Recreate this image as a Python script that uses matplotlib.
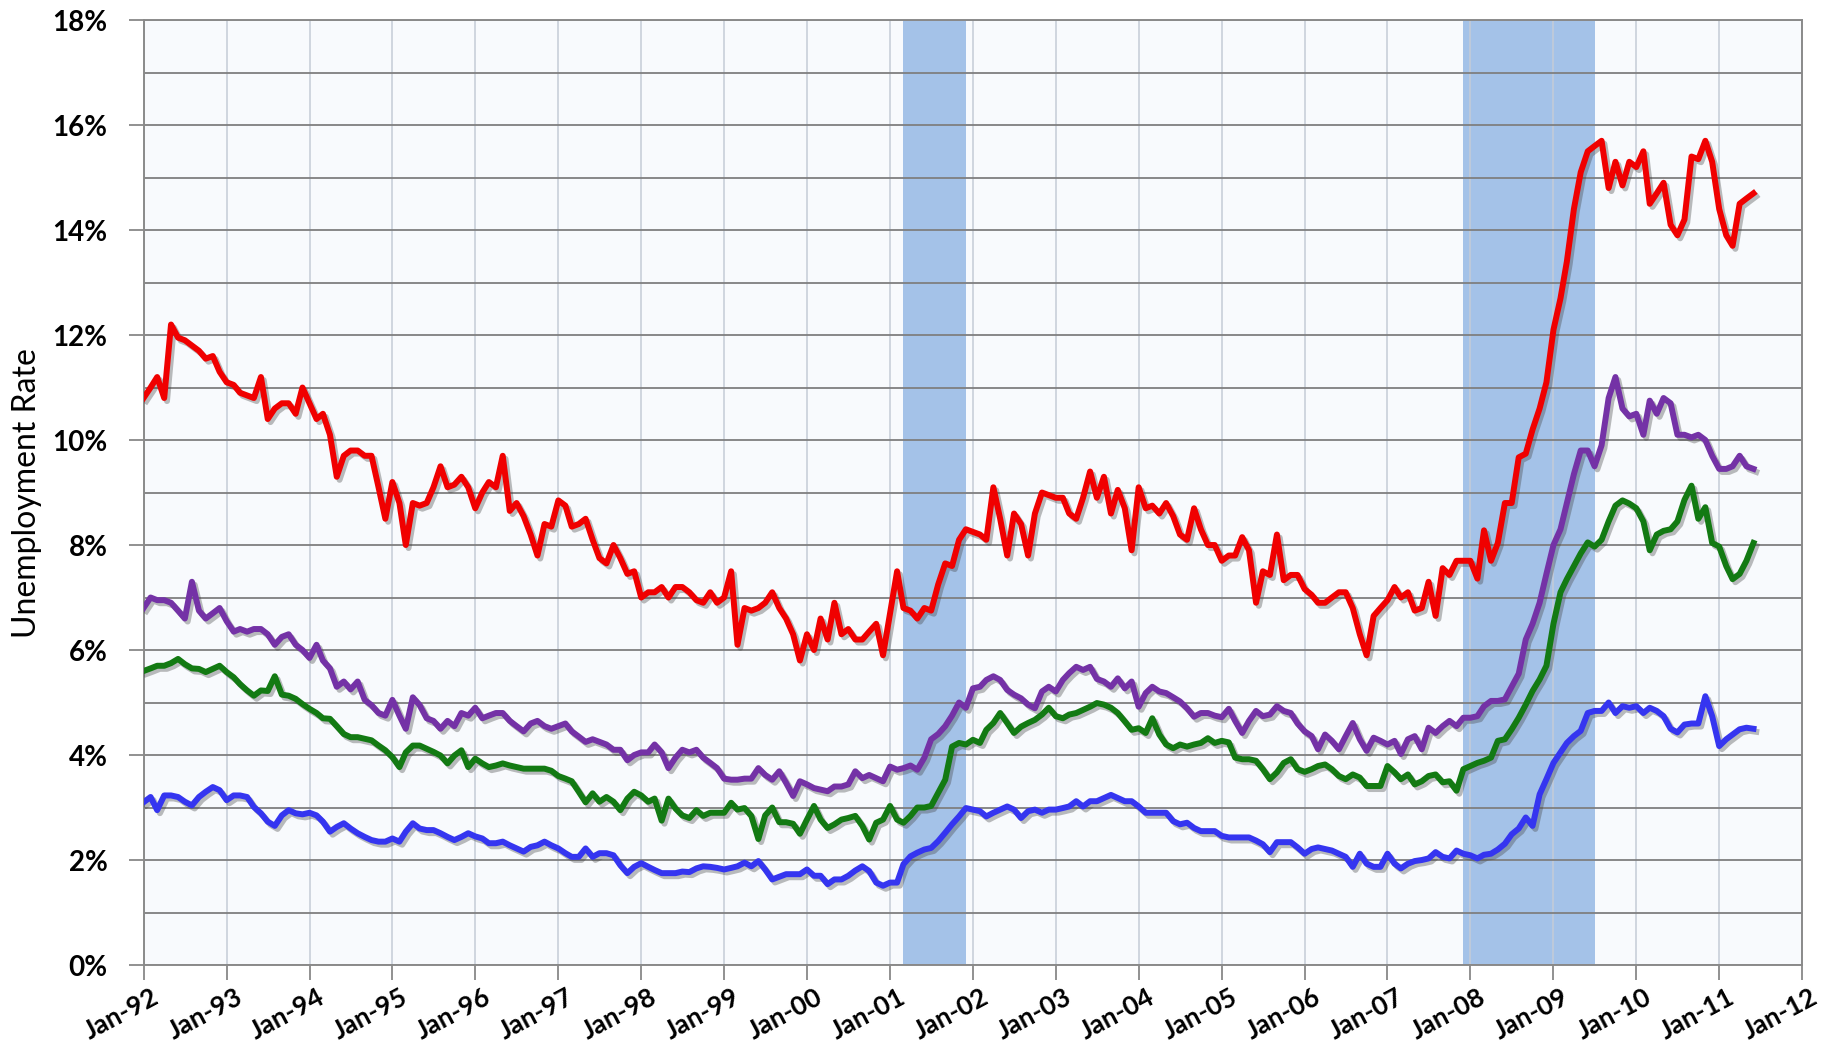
import numpy as np
import pandas as pd
import matplotlib
matplotlib.use('Agg')
import matplotlib.pyplot as plt
import matplotlib.dates as mdates
import matplotlib.patheffects as pe
import matplotlib.transforms as mtransforms

# ---------------- data (monthly, Jan-1992 .. Jun-2011) ----------------
dates = pd.date_range('1992-01-01', periods=234, freq='MS')

less_than_hs = [
    10.8, 11.0, 11.2, 10.8, 12.2, 11.95, 11.9, 11.8, 11.7, 11.55, 11.6, 11.3,
    11.1, 11.05, 10.9, 10.85, 10.8, 11.2, 10.4, 10.6, 10.7, 10.7, 10.5, 11.0,
    10.7, 10.4, 10.5, 10.1, 9.3, 9.7, 9.8, 9.8, 9.7, 9.7, 9.1, 8.5,
    9.2, 8.8, 8.0, 8.8, 8.75, 8.8, 9.1, 9.5, 9.1, 9.15, 9.3, 9.1,
    8.7, 9.0, 9.2, 9.1, 9.7, 8.65, 8.8, 8.55, 8.2, 7.8, 8.4, 8.35,
    8.85, 8.75, 8.35, 8.4, 8.5, 8.1, 7.75, 7.65, 8.0, 7.75, 7.45, 7.5,
    7.0, 7.1, 7.1, 7.2, 7.0, 7.2, 7.2, 7.1, 6.95, 6.9, 7.1, 6.9,
    7.0, 7.5, 6.1, 6.8, 6.75, 6.8, 6.9, 7.1, 6.8, 6.6, 6.3, 5.8,
    6.3, 6.0, 6.6, 6.2, 6.9, 6.3, 6.4, 6.2, 6.2, 6.35, 6.5, 5.9,
    6.7, 7.5, 6.8, 6.75, 6.6, 6.8, 6.75, 7.25, 7.65, 7.6, 8.1, 8.3,
    8.25, 8.2, 8.1, 9.1, 8.5, 7.8, 8.6, 8.4, 7.8, 8.6, 9.0, 8.95,
    8.9, 8.9, 8.6, 8.5, 8.9, 9.4, 8.9, 9.3, 8.6, 9.05, 8.7, 7.9,
    9.1, 8.7, 8.75, 8.6, 8.8, 8.55, 8.2, 8.1, 8.7, 8.3, 8.0, 8.0,
    7.7, 7.8, 7.8, 8.15, 7.9, 6.9, 7.5, 7.43, 8.2, 7.33, 7.43, 7.43,
    7.16, 7.05, 6.9, 6.9, 7.0, 7.1, 7.1, 6.8, 6.3, 5.9, 6.65, 6.8,
    6.95, 7.2, 7.0, 7.1, 6.75, 6.8, 7.3, 6.65, 7.56, 7.43, 7.7, 7.7,
    7.7, 7.36, 8.28, 7.7, 8.04, 8.8, 8.8, 9.67, 9.74, 10.2, 10.6, 11.1,
    12.1, 12.7, 13.4, 14.4, 15.1, 15.5, 15.6, 15.7, 14.8, 15.3, 14.85, 15.3,
    15.2, 15.5, 14.5, 14.7, 14.9, 14.1, 13.9, 14.2, 15.4, 15.35, 15.7, 15.3,
    14.4, 13.9, 13.7, 14.5, 14.6, 14.7,
]

high_school = [
    6.8, 7.0, 6.95, 6.95, 6.9, 6.75, 6.6, 7.3, 6.75, 6.6, 6.7, 6.8,
    6.55, 6.35, 6.4, 6.35, 6.4, 6.4, 6.3, 6.1, 6.25, 6.3, 6.1, 6.0,
    5.85, 6.1, 5.8, 5.65, 5.3, 5.4, 5.25, 5.4, 5.05, 4.95, 4.8, 4.75,
    5.05, 4.75, 4.5, 5.1, 4.95, 4.7, 4.65, 4.5, 4.65, 4.55, 4.8, 4.75,
    4.9, 4.7, 4.75, 4.8, 4.8, 4.65, 4.55, 4.45, 4.6, 4.65, 4.55, 4.5,
    4.55, 4.6, 4.45, 4.35, 4.25, 4.3, 4.25, 4.2, 4.1, 4.1, 3.9, 4.0,
    4.05, 4.05, 4.2, 4.05, 3.75, 3.95, 4.1, 4.05, 4.1, 3.95, 3.85, 3.75,
    3.55, 3.53, 3.53, 3.55, 3.55, 3.75, 3.62, 3.53, 3.69, 3.47, 3.22, 3.5,
    3.44, 3.37, 3.34, 3.31, 3.4, 3.4, 3.44, 3.69, 3.56, 3.62, 3.56, 3.5,
    3.78, 3.72, 3.75, 3.8, 3.72, 3.95, 4.3, 4.4, 4.55, 4.75, 5.0, 4.9,
    5.27, 5.3, 5.43, 5.5, 5.43, 5.24, 5.15, 5.08, 4.96, 4.89, 5.21, 5.3,
    5.21, 5.43, 5.56, 5.68, 5.62, 5.68, 5.45, 5.4, 5.3, 5.46, 5.27, 5.4,
    4.92, 5.18, 5.3, 5.21, 5.18, 5.1, 5.02, 4.89, 4.73, 4.8, 4.8, 4.75,
    4.72, 4.88, 4.65, 4.42, 4.65, 4.84, 4.74, 4.77, 4.93, 4.84, 4.8, 4.6,
    4.45, 4.36, 4.11, 4.39, 4.27, 4.11, 4.36, 4.61, 4.3, 4.08, 4.33, 4.27,
    4.2, 4.27, 4.02, 4.3, 4.36, 4.11, 4.52, 4.42, 4.55, 4.65, 4.55, 4.71,
    4.71, 4.74, 4.93, 5.03, 5.03, 5.06, 5.3, 5.55, 6.2, 6.5, 6.9, 7.45,
    8.0, 8.3, 8.8, 9.35, 9.8, 9.8, 9.5, 9.9, 10.8, 11.2, 10.6, 10.45,
    10.5, 10.1, 10.75, 10.5, 10.8, 10.7, 10.1, 10.1, 10.05, 10.1, 10.0, 9.7,
    9.45, 9.45, 9.5, 9.7, 9.5, 9.45,
]

some_college = [
    5.6, 5.65, 5.7, 5.7, 5.75, 5.83, 5.73, 5.65, 5.64, 5.58, 5.64, 5.7,
    5.58, 5.48, 5.35, 5.23, 5.13, 5.23, 5.22, 5.5, 5.15, 5.13, 5.07, 4.97,
    4.88, 4.8, 4.7, 4.69, 4.55, 4.4, 4.34, 4.34, 4.31, 4.28, 4.18, 4.09,
    3.96, 3.77, 4.05, 4.18, 4.18, 4.12, 4.06, 3.99, 3.84, 3.99, 4.09, 3.77,
    3.93, 3.84, 3.77, 3.8, 3.84, 3.8, 3.77, 3.74, 3.74, 3.74, 3.74, 3.7,
    3.6, 3.55, 3.5, 3.3, 3.1, 3.27, 3.11, 3.2, 3.11, 2.95, 3.17, 3.3,
    3.23, 3.11, 3.17, 2.75, 3.17, 2.98, 2.85, 2.8, 2.95, 2.84, 2.9, 2.9,
    2.9, 3.09, 2.96, 2.99, 2.84, 2.4, 2.85, 3.0, 2.72, 2.72, 2.69, 2.5,
    2.77, 3.03, 2.77, 2.61, 2.68, 2.77, 2.8, 2.84, 2.65, 2.39, 2.71, 2.77,
    3.03, 2.77, 2.71, 2.84, 3.0, 3.0, 3.03, 3.28, 3.53, 4.16, 4.23, 4.2,
    4.29, 4.23, 4.48, 4.61, 4.8, 4.61, 4.42, 4.54, 4.61, 4.67, 4.77, 4.9,
    4.74, 4.7, 4.77, 4.8, 4.86, 4.92, 4.99, 4.96, 4.9, 4.8, 4.64, 4.48,
    4.51, 4.42, 4.7, 4.39, 4.2, 4.13, 4.2, 4.16, 4.2, 4.23, 4.32, 4.23,
    4.27, 4.24, 3.95, 3.92, 3.92, 3.89, 3.73, 3.54, 3.67, 3.85, 3.92, 3.73,
    3.68, 3.73, 3.79, 3.82, 3.73, 3.6, 3.54, 3.63, 3.57, 3.41, 3.41, 3.41,
    3.79, 3.67, 3.54, 3.63, 3.44, 3.5, 3.6, 3.63, 3.48, 3.5, 3.32, 3.73,
    3.79, 3.85, 3.89, 3.95, 4.27, 4.3, 4.49, 4.71, 4.96, 5.22, 5.44, 5.7,
    6.5, 7.1, 7.35, 7.6, 7.84, 8.05, 7.97, 8.1, 8.45, 8.75, 8.85, 8.79,
    8.7, 8.45, 7.9, 8.2, 8.27, 8.3, 8.45, 8.86, 9.13, 8.5, 8.72, 8.04,
    7.97, 7.6, 7.35, 7.45, 7.7, 8.04,
]

bachelors = [
    3.1, 3.2, 2.95, 3.23, 3.23, 3.2, 3.11, 3.04, 3.2, 3.3, 3.39, 3.33,
    3.14, 3.23, 3.23, 3.2, 3.01, 2.89, 2.73, 2.65, 2.85, 2.95, 2.89, 2.87,
    2.9, 2.85, 2.73, 2.54, 2.63, 2.7, 2.6, 2.51, 2.44, 2.38, 2.35, 2.35,
    2.41, 2.35, 2.54, 2.7, 2.6, 2.57, 2.57, 2.51, 2.44, 2.38, 2.44, 2.51,
    2.45, 2.41, 2.32, 2.32, 2.35, 2.28, 2.22, 2.16, 2.25, 2.28, 2.35, 2.28,
    2.22, 2.13, 2.06, 2.06, 2.22, 2.06, 2.13, 2.13, 2.09, 1.9, 1.75, 1.87,
    1.94, 1.87, 1.81, 1.75, 1.75, 1.75, 1.78, 1.77, 1.84, 1.88, 1.87, 1.85,
    1.82, 1.85, 1.88, 1.95, 1.88, 1.98, 1.82, 1.63, 1.68, 1.73, 1.73, 1.73,
    1.82, 1.7, 1.7, 1.54, 1.63, 1.63, 1.7, 1.8, 1.88, 1.79, 1.57, 1.51,
    1.57, 1.57, 1.92, 2.07, 2.14, 2.2, 2.23, 2.36, 2.52, 2.68, 2.83, 2.99,
    2.96, 2.93, 2.83, 2.9, 2.96, 3.02, 2.96, 2.8, 2.93, 2.96, 2.9, 2.96,
    2.96, 2.99, 3.02, 3.12, 3.02, 3.12, 3.12, 3.18, 3.24, 3.18, 3.12, 3.12,
    3.02, 2.9, 2.9, 2.9, 2.9, 2.74, 2.68, 2.71, 2.61, 2.55, 2.55, 2.55,
    2.46, 2.43, 2.43, 2.43, 2.43, 2.37, 2.3, 2.15, 2.34, 2.34, 2.34, 2.24,
    2.12, 2.21, 2.24, 2.21, 2.18, 2.12, 2.06, 1.87, 2.12, 1.93, 1.87, 1.87,
    2.12, 1.93, 1.84, 1.93, 1.98, 2.0, 2.03, 2.15, 2.06, 2.03, 2.18, 2.12,
    2.09, 2.03, 2.1, 2.12, 2.2, 2.31, 2.49, 2.6, 2.81, 2.65, 3.25, 3.54,
    3.85, 4.05, 4.23, 4.36, 4.46, 4.8, 4.84, 4.84, 5.0, 4.8, 4.93, 4.9,
    4.93, 4.8, 4.9, 4.84, 4.74, 4.5, 4.43, 4.58, 4.6, 4.6, 5.12, 4.74,
    4.17, 4.3, 4.39, 4.49, 4.52, 4.5,
]

recession_starts = ['2001-03-01', '2007-12-01']
recession_ends = ['2001-12-01', '2009-07-01']

series_names = ['Less than high school', 'High school', 'Some college', "Bachelor's or higher"]
series_colors = ['#F00000', '#7432A6', '#137A13', '#3535F0']
y_tick_values = list(range(0, 19, 2))
x_tick_dates = pd.date_range('1992-01-01', '2012-01-01', freq='YS')

# ---------------- figure ----------------
plt.rcParams['font.family'] = ['Lato', 'DejaVu Sans']

fig = plt.figure(figsize=(18.31, 10.55), dpi=100)
fig.patch.set_facecolor('white')
ax = fig.add_axes([0.0784, 0.0853, 0.9058, 0.8957])
ax.set_facecolor('#F8FAFD')
ax.set_axisbelow(True)

for s, e in zip(recession_starts, recession_ends):
    ax.axvspan(pd.Timestamp(s), pd.Timestamp(e), color='#A4C2E8', zorder=0.3, lw=0)

all_series = [less_than_hs, high_school, some_college, bachelors]
for vals, name, col in zip(all_series, series_names, series_colors):
    ax.plot(dates, vals, color=col, lw=4.3, label=name, solid_joinstyle='round',
            path_effects=[pe.SimpleLineShadow(offset=(2.0, -2.2), shadow_color='#404040', alpha=0.35),
                          pe.Normal()], zorder=3)

ax.set_xlim(pd.Timestamp('1992-01-01'), pd.Timestamp('2012-01-01'))
ax.set_ylim(0, 18)

ax.set_yticks(y_tick_values)
ax.set_yticks(range(1, 18, 2), minor=True)
ax.set_yticklabels([f'{v}%' for v in y_tick_values], fontsize=20, fontweight='bold')
ax.tick_params(axis='y', which='major', length=11, width=1.3, color='#888888', pad=15)
ax.tick_params(axis='y', which='minor', length=0)

ax.set_xticks(x_tick_dates)
ax.xaxis.set_major_formatter(mdates.DateFormatter('%b-%y'))
ax.tick_params(axis='x', which='major', length=11, width=1.3, color='#888888', pad=3)
for lbl in ax.get_xticklabels():
    lbl.set_rotation(28)
    lbl.set_ha('right')
    lbl.set_va('top')
    lbl.set_rotation_mode('anchor')
    lbl.set_fontsize(19)
    lbl.set_fontweight('bold')
    lbl.set_transform(lbl.get_transform() + mtransforms.ScaledTranslation(8/100, 0, fig.dpi_scale_trans))

ax.grid(axis='y', which='both', color='#7F7F7F', lw=1.3)
ax.grid(axis='x', which='major', color='#C5CCD6', lw=1.1)

for sp in ax.spines.values():
    sp.set_color('#8A8A8A')
    sp.set_linewidth(1.4)

fig.text(0.0145, 0.533, 'Unemployment Rate', rotation=90, ha='center', va='center', fontsize=23)

fig.savefig('out.png', dpi=100, facecolor='white')
